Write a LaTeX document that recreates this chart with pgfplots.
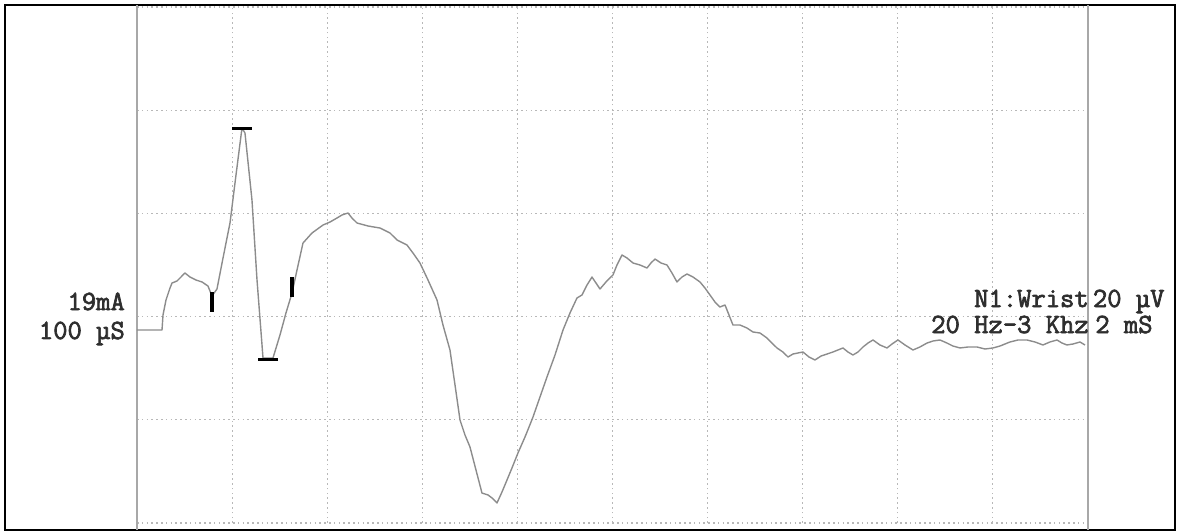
\documentclass[border=0pt]{standalone}
\usepackage{pgfplots}
\pgfplotsset{compat=1.18}
\usepackage{fontspec}
\newfontfamily\scanfont{Latin Modern Mono}[FakeBold=2.5]
\definecolor{tracec}{HTML}{8C8C8C}
\definecolor{gridc}{HTML}{B8B8B8}
\definecolor{edgec}{HTML}{A8A8A8}
\definecolor{txtc}{HTML}{2E2E2E}
\tikzset{lbl/.style={inner sep=0pt, text=txtc, font=\scanfont\fontsize{27.8}{30}\selectfont}}
\begin{document}
\begin{tikzpicture}
\begin{axis}[
  scale only axis, width=1170pt, height=525pt,
  xmin=-2.776, xmax=21.83, ymin=-1.357, ymax=100.39,
  axis line style={black, line width=1.4pt},
  ticks=none, clip=false,
]
% dotted grid
\pgfplotsinvokeforeach{2,4,6,8,10,12,14,16,18}{
  \draw[gridc, line width=1.1pt, dash pattern=on 1.6pt off 3.2pt] (axis cs:#1,0) -- (axis cs:#1,100);
}
\pgfplotsinvokeforeach{0,20,40,60,80,100}{
  \draw[gridc, line width=1.1pt, dash pattern=on 1.6pt off 3.2pt] (axis cs:0,#1) -- (axis cs:20,#1);
}
% solid limits
\draw[edgec, line width=1.6pt] (axis cs:0,-1.357) -- (axis cs:0,100.39);
\draw[edgec, line width=1.6pt] (axis cs:20,-1.357) -- (axis cs:20,100.39);
% trace
\addplot[tracec, line width=1.4pt, line join=round] coordinates {
(0,37.40) (0.484,37.40) (0.526,37.40) (0.547,40.31) (0.610,43.22) (0.694,45.54)
(0.736,46.51) (0.841,46.90) (0.904,47.48) (1.009,48.45) (1.115,47.67) (1.241,47.09)
(1.367,46.71) (1.493,45.93) (1.577,43.99) (1.682,45.35) (1.809,51.36) (1.956,58.14)
(2.082,67.44) (2.208,76.55) (2.271,75.58) (2.418,62.60) (2.524,47.09) (2.650,31.98)
(2.755,31.98) (2.860,31.98) (3.007,36.43) (3.133,40.70) (3.260,44.57) (3.365,49.03)
(3.491,54.26) (3.680,56.20) (3.912,57.75) (4.059,58.33) (4.206,59.11) (4.311,59.69)
(4.437,60.08) (4.521,59.11) (4.627,58.14) (4.858,57.56) (5.110,57.17) (5.321,56.20)
(5.468,54.85) (5.678,53.88) (5.804,52.33) (5.951,50.39) (6.120,47.09) (6.309,43.22)
(6.435,38.37) (6.582,33.53) (6.688,26.74) (6.793,19.96) (6.898,17.05) (7.003,14.73)
(7.129,10.27) (7.255,5.81) (7.382,5.43) (7.466,4.85) (7.571,3.88) (7.676,6.01)
(7.781,8.33) (7.886,10.66) (8.012,13.57) (8.160,16.67) (8.328,20.54) (8.475,24.42)
(8.622,28.29) (8.791,32.56) (8.959,37.40) (9.106,40.70) (9.253,43.61) (9.358,44.19)
(9.464,46.12) (9.569,47.67) (9.653,46.51) (9.737,45.35) (9.863,46.71) (10.010,48.06)
(10.094,50.00) (10.200,51.94) (10.305,51.36) (10.431,50.39) (10.578,50.00) (10.725,49.42)
(10.809,50.39) (10.894,51.16) (11.020,50.39) (11.146,50.00) (11.251,48.45) (11.356,46.71)
(11.461,47.67) (11.567,48.26) (11.693,47.67) (11.840,46.71) (11.945,45.54) (12.050,44.19)
(12.155,42.83) (12.260,41.86) (12.366,42.25) (12.450,40.31) (12.534,38.37) (12.681,38.37)
(12.828,37.79) (12.954,37.02) (13.102,36.82) (13.249,35.85) (13.354,34.88) (13.459,33.92)
(13.585,33.14) (13.691,32.17) (13.796,32.75) (13.901,32.95) (14.006,33.14) (14.132,32.17)
(14.258,31.59) (14.385,32.36) (14.511,32.75) (14.637,33.14) (14.742,33.53) (14.847,33.92)
(14.952,33.14) (15.057,32.56) (15.163,33.14) (15.268,34.11) (15.373,34.88) (15.478,35.47)
(15.625,34.50) (15.773,33.92) (15.878,34.69) (16.004,35.47) (16.151,34.50) (16.319,33.53)
(16.466,34.11) (16.614,34.88) (16.740,35.27) (16.887,35.47) (17.034,34.88) (17.160,34.30)
(17.308,33.92) (17.476,34.11) (17.665,34.11) (17.833,33.72) (18.002,33.92) (18.149,34.30)
(18.359,35.08) (18.527,35.47) (18.717,35.47) (18.885,35.08) (19.053,34.50) (19.200,35.08)
(19.348,35.47) (19.453,34.88) (19.558,34.50) (19.684,34.69) (19.831,35.08) (19.936,34.50)
};
% latency / amplitude markers
\addplot[only marks, mark=|, mark size=10pt, mark options={black, line width=3.5pt}] coordinates {(1.577,42.83) (3.260,45.74)};
\addplot[only marks, mark=-, mark size=10pt, mark options={black, line width=3pt}] coordinates {(2.208,76.55) (2.755,31.78)};
% labels
\node[lbl, anchor=base east] at (axis cs:-0.252,41.28) {19mA};
\node[lbl, anchor=base east] at (axis cs:-0.252,35.66) {100 µS};
\node[lbl, anchor=base east] at (axis cs:20.02,41.86) {N1:Wrist};
\node[lbl, anchor=base west] at (axis cs:20.10,41.86) {20 µV};
\node[lbl, anchor=base east] at (axis cs:20.02,36.82) {20 Hz-3 Khz};
\node[lbl, anchor=base west] at (axis cs:20.15,36.82) {2 mS};
\end{axis}
\path[use as bounding box] ([shift={(-5pt,-1pt)}]current axis.south west) rectangle ([shift={(2pt,5pt)}]current axis.north east);
\end{tikzpicture}
\end{document}
